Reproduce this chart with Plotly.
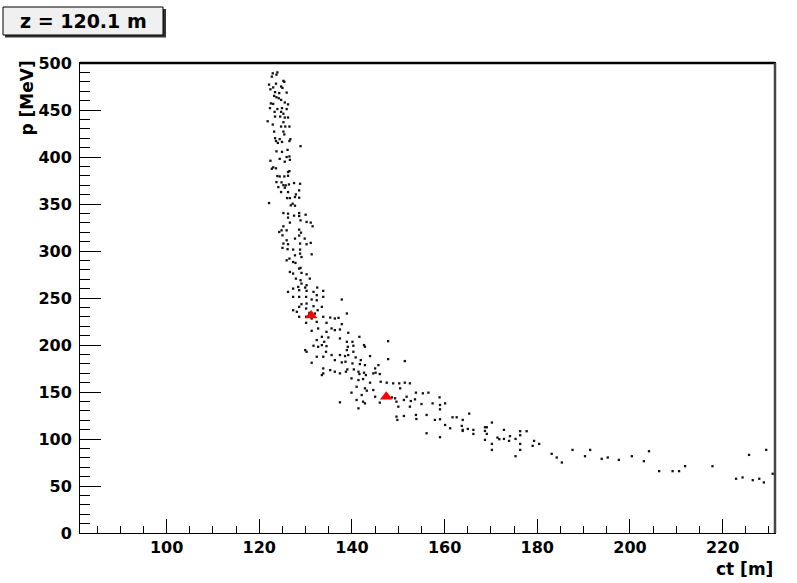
import plotly.graph_objects as go

title_text = "z = 120.1 m"
x_title = "ct [m]"
y_title = "p [MeV]"

# scattered simulated particles (ct in m, p in MeV)
ct_vals = [
    123.9, 122.9, 122.7, 123.7, 125.2, 125.4, 122.1, 123.6, 124.7, 123.0, 122.4, 123.4, 125.0, 125.9, 124.3, 123.2,
    123.7, 124.2, 124.7, 122.5, 123.0, 125.5, 126.2, 122.3, 123.9, 124.9, 125.9, 123.3, 124.7, 125.2, 123.4, 124.5,
    125.5, 126.2, 121.8, 125.2, 122.9, 124.7, 125.6, 126.5, 123.2, 125.2, 125.4, 123.4, 124.4, 126.7, 123.6, 124.0,
    124.9, 126.5, 128.9, 126.1, 123.7, 124.9, 126.5, 125.9, 124.4, 122.4, 125.5, 126.6, 123.0, 123.6, 122.7, 126.5,
    126.2, 123.9, 124.4, 125.4, 126.2, 123.7, 124.8, 125.2, 125.7, 126.4, 127.5, 128.8, 124.1, 125.5, 128.6, 124.7,
    126.2, 127.9, 126.0, 126.6, 127.7, 128.6, 122.1, 127.2, 126.8, 127.7, 125.2, 128.6, 126.2, 130.0, 127.5, 128.6,
    126.2, 128.9, 130.2, 131.1, 126.6, 131.5, 125.2, 124.8, 124.3, 125.9, 128.6, 129.0, 125.0, 128.6, 125.9, 127.7,
    129.8, 125.2, 126.2, 128.8, 130.2, 131.1, 125.0, 126.1, 127.3, 128.8,
    128.8, 127.7, 129.1, 126.5, 131.3, 125.9, 127.3, 127.8, 128.6, 128.9, 126.6, 127.3, 129.1, 130.2, 130.9, 127.9,
    128.9, 129.1, 130.2, 128.4, 129.9, 127.3, 128.6, 130.2, 132.5, 133.8, 126.2, 131.7, 132.4, 127.3, 128.6, 130.1,
    133.8, 131.3, 132.4, 137.8, 129.1, 130.2, 128.6, 131.7, 133.5, 130.1, 127.3, 132.6, 128.1, 130.8, 132.0, 138.9,
    128.6, 130.1, 131.3, 133.8, 135.3, 136.3, 137.1, 132.4, 130.1, 134.5, 137.8, 132.7, 135.6, 136.3, 137.4, 131.3,
    134.5, 139.2, 133.5, 134.9, 137.4, 141.6, 132.4, 134.0, 138.9, 140.1, 133.5, 131.7, 134.5, 132.7, 139.1, 140.3,
    142.6, 129.9, 130.2, 134.4, 138.9, 140.3, 142.8, 132.4, 133.8, 135.6, 137.4, 138.5, 139.2, 140.8, 143.9, 131.3,
    136.3, 137.8, 138.6, 140.1, 141.9, 145.0, 145.7, 141.7, 139.0, 140.4, 142.8, 133.8, 135.3, 136.3, 137.4, 138.7,
    141.4, 142.6, 144.6, 145.1, 133.5, 133.8, 141.6, 143.0, 146.0, 147.8, 147.8, 151.4, 146.2, 147.5, 148.9, 150.2,
    151.4, 152.5, 139.9, 141.4, 142.4, 143.9, 141.0, 142.8, 143.2, 144.6, 150.4, 139.9, 142.1, 145.0, 148.6, 149.3,
    151.8, 153.8, 155.3, 156.5, 141.0, 142.4, 137.4, 142.8, 146.0, 149.6, 151.2, 152.7, 153.6, 155.0, 157.4, 158.9,
    160.1, 141.4, 150.0, 152.5, 159.0, 159.0, 149.6, 151.2, 153.8, 156.1, 153.9, 157.9, 159.0, 161.7, 162.6, 160.1,
    161.2, 149.8, 156.1, 159.0,
    163.9, 165.3, 163.7, 163.9, 163.9, 165.0, 166.2, 166.2, 168.7, 169.1, 168.7, 169.1, 170.2, 168.7, 170.2, 170.2,
    171.4, 171.8, 172.8, 172.8, 173.9, 174.1, 175.3, 175.3, 176.3, 176.3, 176.3, 176.3, 177.7, 179.0, 179.3, 180.4,
    183.1, 184.2, 185.3, 187.6, 190.3, 191.4, 193.9, 195.2, 197.6, 200.4, 203.0, 204.1, 206.3, 209.2, 210.6, 211.9,
    217.8, 222.9, 224.3, 225.7, 226.5, 227.9, 228.9, 229.4, 230.8,
]
p_vals = [
    490.0, 489.0, 485.5, 487.6, 481.0, 480.0, 477.0, 478.0, 475.0, 474.0, 472.0, 469.0, 473.5, 468.5, 468.0, 465.0,
    463.6, 462.5, 460.7, 457.0, 456.5, 458.0, 456.0, 452.0, 451.0, 452.0, 451.0, 448.0, 448.0, 446.0, 443.0, 443.0,
    442.0, 442.0, 438.0, 437.0, 434.5, 432.4, 432.4, 432.4, 427.0, 427.0, 424.0, 420.0, 419.0, 419.0, 417.0, 415.0,
    416.0, 417.0, 411.5, 407.6, 406.0, 405.5, 400.6, 400.0, 398.0, 396.0, 395.0, 397.0, 389.0, 388.0, 387.5, 385.0,
    384.0, 379.7, 379.3, 379.3, 380.0, 373.3, 373.0, 370.0, 369.8, 370.8, 372.3, 371.5, 368.0, 367.3, 364.5, 362.7,
    362.7, 360.2, 356.3, 356.3, 357.4, 356.7, 351.0, 350.3, 348.6, 348.2, 340.4, 340.4, 339.7, 338.6, 337.6, 337.2,
    335.5, 332.6, 330.9, 330.2, 330.2, 326.3, 326.3, 322.0, 320.2, 322.0, 322.7, 319.5, 316.7, 316.4, 311.4, 313.2,
    313.2, 307.9, 307.2, 307.9, 307.2, 308.6, 303.3, 301.9, 301.5, 301.5,
    297.2, 295.4, 293.6, 291.9, 296.5, 290.1, 288.3, 287.3, 281.3, 282.0, 277.7, 276.0, 276.7, 275.2, 270.6, 270.6,
    268.9, 265.3, 263.6, 261.8, 261.1, 260.0, 258.3, 257.6, 261.1, 257.6, 256.5, 256.5, 253.0, 251.2, 251.2, 251.2,
    251.2, 248.4, 247.6, 248.4, 243.4, 244.1, 240.6, 241.3, 240.6, 238.8, 237.0, 237.0, 235.3, 234.2, 233.5, 233.5,
    230.0, 230.0, 228.2, 230.0, 229.2, 228.2, 228.9, 224.6, 223.6, 223.6, 222.2, 217.6, 217.6, 215.8, 216.5, 215.1,
    214.0, 213.0, 208.7, 208.0, 207.0, 208.7, 205.2, 203.4, 203.4, 203.4, 199.9, 199.2, 198.8, 198.1, 198.1, 199.2,
    199.9, 194.6, 192.8, 192.8, 194.6, 192.8, 198.1, 187.5, 187.5, 189.3, 189.3, 188.2, 189.3, 186.8, 188.2, 181.1,
    183.9, 181.5, 182.2, 180.4, 183.9, 175.1, 178.6, 179.7, 174.0, 174.0, 178.6, 175.1, 173.3, 171.6, 169.8, 171.6,
    171.6, 170.5, 169.8, 170.5, 168.0, 169.8, 169.1, 168.0, 169.1, 204.1, 185.0, 182.9, 160.9, 159.9, 159.2, 159.2,
    159.9, 159.2, 164.5, 162.7, 163.8, 159.9, 155.6, 153.9, 151.4, 152.1, 153.9, 149.3, 146.8, 145.0, 144.3, 143.3,
    145.0, 149.3, 148.6, 149.3, 141.5, 139.7, 139.0, 137.9, 138.7, 139.7, 141.5, 140.4, 142.2, 137.2, 137.9, 144.3,
    137.9, 132.6, 134.4, 134.4, 136.2, 131.6, 123.8, 124.5, 125.6, 125.6, 121.3, 120.3, 121.0, 123.1, 123.1, 114.9,
    111.4, 120.3, 106.1, 101.9,
    120.3, 127.0, 113.9, 109.7, 108.6, 110.7, 109.7, 105.4, 112.5, 112.5, 108.6, 105.4, 117.5, 99.1, 94.8, 88.4,
    101.5, 99.8, 109.7, 100.1, 98.0, 103.0, 100.1, 81.7, 108.3, 104.0, 94.8, 88.4, 108.3, 92.7, 98.0, 94.8,
    84.2, 80.3, 75.0, 88.4, 81.7, 88.4, 78.9, 80.3, 77.8, 81.7, 76.4, 87.0, 65.8, 65.8, 65.8, 71.1,
    71.1, 57.7, 59.1, 83.1, 56.2, 57.7, 53.8, 88.4, 63.0,
]

# reference particles (red triangles)
ref_ct = [131.2, 147.4]
ref_p = [231.5, 145.0]

x_range = [81.3, 231.3]
y_range = [0, 500]

FONT = "DejaVu Sans"

fig = go.Figure()
fig.add_trace(go.Scatter(
    x=ct_vals, y=p_vals, mode="markers",
    marker=dict(symbol="square", size=2.3, color="#111111", line=dict(width=0)),
    showlegend=False, hoverinfo="skip",
))
fig.add_trace(go.Scatter(
    x=ref_ct, y=ref_p, mode="markers",
    marker=dict(symbol="triangle-up", size=11, color="#ff0000", line=dict(width=0)),
    showlegend=False,
))

axis_common = dict(
    showgrid=False, zeroline=False, showline=True, linecolor="black", linewidth=1,
    mirror=True, ticks="inside", tickcolor="black", tickwidth=1,
    tickfont=dict(family=FONT, size=16, color="black", weight="bold"),
)
fig.update_xaxes(
    range=x_range, tick0=0, dtick=20, ticklen=14,
    minor=dict(ticks="inside", ticklen=7, dtick=5, tick0=0, tickcolor="black", tickwidth=1),
    **axis_common,
)
fig.update_yaxes(
    range=y_range, tick0=0, dtick=50, ticklen=21, ticklabelstandoff=4,
    minor=dict(ticks="inside", ticklen=10, dtick=10, tick0=0, tickcolor="black", tickwidth=1),
    **axis_common,
)

W, H = 797, 583
L, R, T, B = 80, 22, 63, 50
pw, ph = W - L - R, H - T - B

def px(xp):
    return (xp - L) / pw

def py(yp):
    return (H - B - yp) / ph

shapes = [
    # thicker top and right frame edges
    dict(type="line", xref="paper", yref="paper", x0=0, x1=1, y0=1, y1=1,
         line=dict(color="black", width=2.5)),
    dict(type="line", xref="paper", yref="paper", x0=1, x1=1, y0=0, y1=1,
         line=dict(color="#444444", width=2.5)),
    # title box shadow and box
    dict(type="rect", xref="paper", yref="paper", x0=px(5), x1=px(166), y0=py(37.5), y1=py(9),
         line=dict(width=0), fillcolor="#333333"),
    dict(type="rect", xref="paper", yref="paper", x0=px(3), x1=px(163), y0=py(35), y1=py(7),
         line=dict(width=1, color="black"), fillcolor="#f0f0f0"),
]

annotations = [
    dict(text=title_text, xref="paper", yref="paper", x=px(83), y=py(21), xanchor="center", yanchor="middle",
         showarrow=False, font=dict(family=FONT, size=19, color="black", weight="bold")),
    dict(text=x_title, xref="paper", yref="paper", x=1.0, y=py(569), xanchor="right", yanchor="middle",
         showarrow=False, font=dict(family=FONT, size=17, color="black", weight="bold")),
    dict(text=y_title, xref="paper", yref="paper", x=px(26), y=py(59), xanchor="center", yanchor="top",
         textangle=-90, showarrow=False, font=dict(family=FONT, size=17, color="black", weight="bold")),
]

fig.update_layout(
    width=W, height=H, margin=dict(l=L, r=R, t=T, b=B, pad=0),
    paper_bgcolor="white", plot_bgcolor="white",
    shapes=shapes, annotations=annotations, showlegend=False,
)

fig.write_html("out.html")
